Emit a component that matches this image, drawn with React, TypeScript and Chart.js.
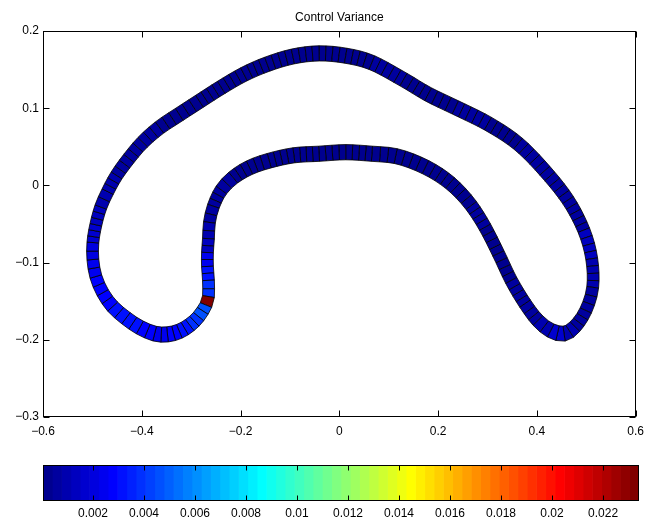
import React, { useEffect, useRef } from "react";
import { Chart, registerables } from "chart.js";

Chart.register(...registerables);

const chartTitle = "Control Variance";
const xTicks = [-0.6, -0.4, -0.2, 0, 0.2, 0.4, 0.6];
const yTicks = [-0.3, -0.2, -0.1, 0, 0.1, 0.2];
const colorbarTicks = [0.002, 0.004, 0.006, 0.008, 0.01, 0.012, 0.014, 0.016, 0.018, 0.02, 0.022];
const colorbarMin = 0.00004;
const colorbarMax = 0.02341;
const colormapSize = 64;

// centreline of the track (closed loop)
const trackX = [
  -0.041, 0.013, 0.066, 0.130, 0.180, 0.235, 0.301, 0.362, 0.416, 0.463,
  0.495, 0.511, 0.513, 0.499, 0.477, 0.455, 0.428, 0.402, 0.376, 0.348,
  0.322, 0.295, 0.267, 0.235, 0.201, 0.160, 0.114, 0.066, 0.013, -0.041,
  -0.092, -0.142, -0.182, -0.215, -0.239, -0.255, -0.263, -0.265, -0.267, -0.267,
  -0.265, -0.265, -0.270, -0.285, -0.303, -0.324, -0.348, -0.374, -0.404, -0.432,
  -0.459, -0.479, -0.493, -0.499, -0.499, -0.493, -0.483, -0.469, -0.451, -0.426,
  -0.398, -0.364, -0.324, -0.283, -0.239, -0.193, -0.146, -0.094,
];
const trackY = [
  0.171, 0.168, 0.159, 0.137, 0.118, 0.101, 0.080, 0.054, 0.019, -0.019,
  -0.058, -0.095, -0.132, -0.162, -0.183, -0.192, -0.188, -0.175, -0.153, -0.123,
  -0.088, -0.054, -0.026, -0.003, 0.014, 0.028, 0.038, 0.041, 0.043, 0.041,
  0.039, 0.032, 0.023, 0.010, -0.006, -0.027, -0.048, -0.069, -0.087, -0.105,
  -0.123, -0.144, -0.155, -0.170, -0.181, -0.189, -0.193, -0.192, -0.184, -0.172,
  -0.157, -0.139, -0.118, -0.096, -0.074, -0.051, -0.028, -0.008, 0.013, 0.035,
  0.056, 0.075, 0.092, 0.109, 0.127, 0.144, 0.157, 0.167,
];
// variance of each track segment (segment i joins point i and i+1)
const controlVariance = [
  0.0004, 0.0004, 0.0005, 0.0004, 0.0004, 0.0005, 0.0004, 0.0005, 0.0006, 0.0007,
  0.0012, 0.0009, 0.0006, 0.0007, 0.0011, 0.0016, 0.0008, 0.0005, 0.0005, 0.0004,
  0.0004, 0.0005, 0.0004, 0.0004, 0.0004, 0.0004, 0.0004, 0.0004, 0.0004, 0.0004,
  0.0004, 0.0004, 0.0004, 0.0005, 0.0005, 0.0006, 0.0009, 0.0015, 0.0024, 0.0032,
  0.0039, 0.0232, 0.0046, 0.0038, 0.0031, 0.0026, 0.0024, 0.0027, 0.0031, 0.0033,
  0.0029, 0.0026, 0.0023, 0.0020, 0.0017, 0.0013, 0.0011, 0.0009, 0.0007, 0.0006,
  0.0005, 0.0004, 0.0004, 0.0004, 0.0004, 0.0004, 0.0004, 0.0004,
];

const FONT = '"Liberation Sans", Arial, Helvetica, sans-serif';
const FONT_SIZE = 12;

function jet(i: number) {
  const x = (i + 1) / colormapSize;
  const c = (v: number) => Math.round(255 * Math.max(0, Math.min(1, v)));
  return `rgb(${c(1.5 - Math.abs(4 * x - 3))},${c(1.5 - Math.abs(4 * x - 2))},${c(1.5 - Math.abs(4 * x - 1))})`;
}
function colorFor(v: number) {
  let i = Math.floor(((v - colorbarMin) / (colorbarMax - colorbarMin)) * colormapSize);
  i = Math.max(0, Math.min(colormapSize - 1, i));
  return jet(i);
}
function fmtTick(v: number) {
  const n = Number(Number(v).toFixed(4));
  const s = String(Object.is(n, -0) ? 0 : n);
  return s.replace("-", "\u2212");
}

function cr(p0: number[], p1: number[], p2: number[], p3: number[], t: number) {
  const t2 = t * t, t3 = t2 * t;
  const f = (a: number, b: number, c: number, d: number) =>
    0.5 * (2 * b + (-a + c) * t + (2 * a - 5 * b + 4 * c - d) * t2 + (-a + 3 * b - 3 * c + d) * t3);
  return [f(p0[0], p1[0], p2[0], p3[0]), f(p0[1], p1[1], p2[1], p3[1])];
}

const trackPlugin = {
  id: "trackRibbon",
  afterDatasetsDraw(chart: any) {
    const xs = chart.scales.x, ys = chart.scales.y;
    const ctx = chart.ctx as CanvasRenderingContext2D;
    const data = chart.data.datasets[0].data as { x: number; y: number }[];
    const n = data.length;
    const P = data.map((p) => [xs.getPixelForValue(p.x), ys.getPixelForValue(p.y)]);
    const pts: number[][] = [];
    const segOf: number[] = [];
    for (let i = 0; i < n; i++) {
      const p0 = P[(i - 1 + n) % n], p1 = P[i], p2 = P[(i + 1) % n], p3 = P[(i + 2) % n];
      const len = Math.hypot(p2[0] - p1[0], p2[1] - p1[1]);
      const m = Math.max(1, Math.round(len / 7.2));
      for (let k = 0; k < m; k++) {
        pts.push(cr(p0, p1, p2, p3, k / m));
        segOf.push(i);
      }
    }
    const N = pts.length;
    const L: number[][] = [], R: number[][] = [];
    for (let j = 0; j < N; j++) {
      const a = pts[(j - 1 + N) % N], b = pts[(j + 1) % N];
      let tx = b[0] - a[0], ty = b[1] - a[1];
      const tl = Math.hypot(tx, ty) || 1;
      tx /= tl; ty /= tl;
      const nx = -ty, ny = tx;
      const h = 5.9 + 1.7 * ny * ny;
      L.push([pts[j][0] + nx * h, pts[j][1] + ny * h]);
      R.push([pts[j][0] - nx * h, pts[j][1] - ny * h]);
    }
    ctx.save();
    ctx.lineWidth = 0.8;
    ctx.strokeStyle = "#000";
    ctx.lineJoin = "round";
    for (let j = 0; j < N; j++) {
      const j2 = (j + 1) % N;
      ctx.beginPath();
      ctx.moveTo(L[j][0], L[j][1]);
      ctx.lineTo(L[j2][0], L[j2][1]);
      ctx.lineTo(R[j2][0], R[j2][1]);
      ctx.lineTo(R[j][0], R[j][1]);
      ctx.closePath();
      ctx.fillStyle = colorFor(controlVariance[segOf[j]]);
      ctx.fill();
      ctx.stroke();
    }
    ctx.restore();
  },
};

function makeFramePlugin(xt: number[], yt: number[], tickLen: number) {
  return {
    id: "matlabFrame",
    afterDraw(chart: any) {
      const ctx = chart.ctx as CanvasRenderingContext2D;
      const { left, right, top, bottom } = chart.chartArea;
      const l = Math.round(left) + 0.5, r = Math.round(right) - 0.5;
      const t = Math.round(top) + 0.5, b = Math.round(bottom) - 0.5;
      ctx.save();
      ctx.strokeStyle = "#000";
      ctx.lineWidth = 1;
      ctx.beginPath();
      const xs = chart.scales.x;
      for (const v of xt) {
        const px = Math.round(xs.getPixelForValue(v)) + 0.5;
        ctx.moveTo(px, b); ctx.lineTo(px, b - tickLen);
        ctx.moveTo(px, t); ctx.lineTo(px, t + tickLen);
      }
      if (yt.length) {
        const ys = chart.scales.y;
        for (const v of yt) {
          const py = Math.round(ys.getPixelForValue(v)) + 0.5;
          ctx.moveTo(l, py); ctx.lineTo(l + tickLen, py);
          ctx.moveTo(r, py); ctx.lineTo(r - tickLen, py);
        }
      }
      ctx.stroke();
      ctx.strokeRect(l, t, r - l, b - t);
      ctx.restore();
    },
  };
}

export default function App() {
  const mainRef = useRef<HTMLCanvasElement>(null);
  const cbRef = useRef<HTMLCanvasElement>(null);

  useEffect(() => {
    const font = { family: FONT, size: FONT_SIZE, weight: "normal" as const };
    const main = new Chart(mainRef.current!, {
      type: "scatter",
      data: {
        datasets: [
          {
            data: trackX.map((x, i) => ({ x, y: trackY[i] })),
            pointRadius: 0,
            showLine: false,
          },
        ],
      },
      options: {
        animation: false,
        responsive: false,
        devicePixelRatio: 1,
        events: [],
        layout: { padding: { left: 0, right: 13, top: 0, bottom: 0 } },
        plugins: {
          legend: { display: false },
          tooltip: { enabled: false },
          title: {
            display: true,
            text: chartTitle,
            color: "#000",
            fullSize: false,
            font,
            padding: { top: 10, bottom: 6.6 },
          },
        },
        scales: {
          x: {
            type: "linear",
            min: -0.6,
            max: 0.6,
            afterBuildTicks: (s: any) => {
              s.ticks = xTicks.map((v) => ({ value: v }));
            },
            afterFit: (s: any) => {
              s.height = 28;
            },
            ticks: { callback: (v: any) => fmtTick(v), color: "#000", font, padding: 7, maxRotation: 0, autoSkip: false },
            grid: { display: false, drawTicks: false },
            border: { display: false },
          },
          y: {
            type: "linear",
            min: -0.3,
            max: 0.2,
            afterBuildTicks: (s: any) => {
              s.ticks = yTicks.map((v) => ({ value: v }));
            },
            afterFit: (s: any) => {
              s.width = 43;
            },
            ticks: { callback: (v: any) => fmtTick(v), color: "#000", font, padding: 4, autoSkip: false },
            grid: { display: false, drawTicks: false },
            border: { display: false },
          },
        },
      },
      plugins: [trackPlugin, makeFramePlugin(xTicks, yTicks, 6)],
    } as any);

    const step = (colorbarMax - colorbarMin) / colormapSize;
    const bands = Array.from({ length: colormapSize }, (_, k) => k);
    const cb = new Chart(cbRef.current!, {
      type: "bar",
      data: {
        labels: [""],
        datasets: bands.map((k) => ({
          data: [[colorbarMin + k * step, colorbarMin + (k + 1) * step]],
          backgroundColor: jet(k),
          borderWidth: 0,
          grouped: false,
          barPercentage: 1,
          categoryPercentage: 1,
        })),
      },
      options: {
        indexAxis: "y",
        animation: false,
        responsive: false,
        devicePixelRatio: 1,
        events: [],
        layout: { padding: { left: 43, right: 12, top: 20, bottom: 0 } },
        plugins: { legend: { display: false }, tooltip: { enabled: false }, title: { display: false } },
        scales: {
          x: {
            type: "linear",
            min: colorbarMin,
            max: colorbarMax,
            afterBuildTicks: (s: any) => {
              s.ticks = colorbarTicks.map((v) => ({ value: v }));
            },
            afterFit: (s: any) => {
              s.height = 24;
            },
            ticks: { callback: (v: any) => fmtTick(v), color: "#000", font, padding: 5, maxRotation: 0, autoSkip: false },
            grid: { display: false, drawTicks: false },
            border: { display: false },
          },
          y: { display: false },
        },
      },
      plugins: [makeFramePlugin(colorbarTicks, [], 5)],
    } as any);

    return () => {
      main.destroy();
      cb.destroy();
    };
  }, []);

  return (
    <div style={{ position: "absolute", left: 0, top: 0, width: 651, height: 525, background: "#fff" }}>
      <canvas
        ref={mainRef}
        width={651}
        height={445}
        style={{ position: "absolute", left: 0, top: 0, width: 651, height: 445 }}
      />
      <canvas
        ref={cbRef}
        width={651}
        height={80}
        style={{ position: "absolute", left: 0, top: 445, width: 651, height: 80 }}
      />
    </div>
  );
}
